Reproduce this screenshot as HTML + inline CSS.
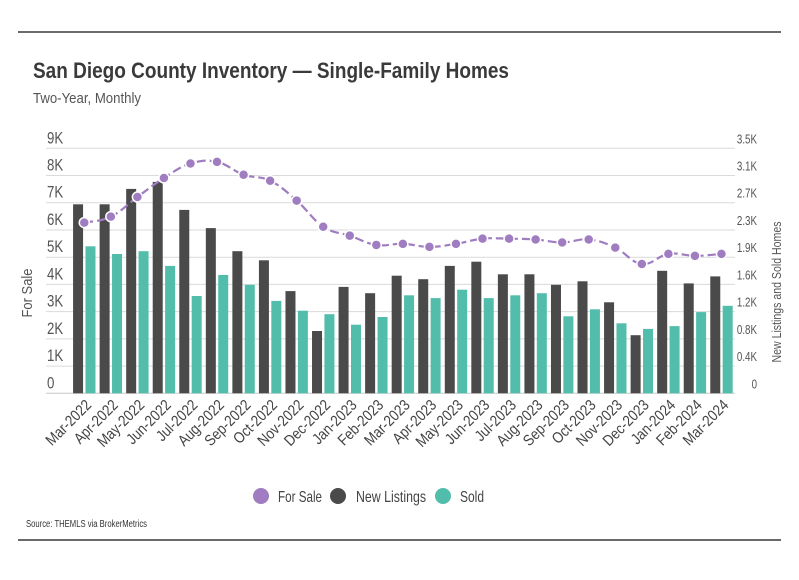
<!DOCTYPE html>
<html><head><meta charset="utf-8">
<style>
body{margin:0;background:#fff;width:799px;height:575px;overflow:hidden;font-family:"Liberation Sans",sans-serif;}
svg text{font-family:"Liberation Sans",sans-serif;}
</style></head>
<body>
<svg id="chart" width="799" height="575" viewBox="0 0 799 575" xmlns="http://www.w3.org/2000/svg">
<line x1="18" y1="32" x2="781" y2="32" stroke="#111" stroke-width="1.3"/>
<text x="33" y="78" font-size="22" font-weight="bold" fill="#3a3a3a" textLength="476" lengthAdjust="spacingAndGlyphs">San Diego County Inventory — Single-Family Homes</text>
<text x="33" y="103" font-size="15" fill="#555" textLength="108" lengthAdjust="spacingAndGlyphs">Two-Year, Monthly</text>
<g id="grid"></g>
<g id="bars"></g>
<g id="line"></g>
<g id="xlabels"></g>
<text transform="translate(32,293) rotate(-90)" text-anchor="middle" font-size="15" fill="#555" textLength="49" lengthAdjust="spacingAndGlyphs">For Sale</text>
<text transform="translate(781,292) rotate(-90)" text-anchor="middle" font-size="13" fill="#555" textLength="141" lengthAdjust="spacingAndGlyphs">New Listings and Sold Homes</text>
<g>
<circle cx="261" cy="496" r="8" fill="#a07cc0"/>
<text x="278" y="502" font-size="16" fill="#444" textLength="44" lengthAdjust="spacingAndGlyphs">For Sale</text>
<circle cx="338" cy="496" r="8" fill="#4a4a4a"/>
<text x="356" y="502" font-size="16" fill="#444" textLength="70" lengthAdjust="spacingAndGlyphs">New Listings</text>
<circle cx="443" cy="496" r="8" fill="#52bdaa"/>
<text x="460" y="502" font-size="16" fill="#444" textLength="24" lengthAdjust="spacingAndGlyphs">Sold</text>
</g>
<text x="26" y="527" font-size="10" fill="#333" textLength="121" lengthAdjust="spacingAndGlyphs">Source:  THEMLS via BrokerMetrics</text>
<line x1="18" y1="540" x2="781" y2="540" stroke="#111" stroke-width="1.3"/>
</svg>
<script>
const months=["Mar-2022","Apr-2022","May-2022","Jun-2022","Jul-2022","Aug-2022","Sep-2022","Oct-2022","Nov-2022","Dec-2022","Jan-2023","Feb-2023","Mar-2023","Apr-2023","May-2023","Jun-2023","Jul-2023","Aug-2023","Sep-2023","Oct-2023","Nov-2023","Dec-2023","Jan-2024","Feb-2024","Mar-2024"];
const forSale=[6270,6490,7210,7910,8440,8500,8030,7810,7080,6120,5790,5450,5490,5380,5490,5680,5680,5650,5540,5650,5350,4750,5120,5050,5120];
const newListings=[2700,2700,2920,3020,2620,2360,2030,1900,1460,890,1520,1430,1680,1630,1820,1880,1700,1700,1550,1600,1300,830,1750,1570,1670];
const sold=[2100,1990,2030,1820,1390,1690,1550,1320,1180,1130,980,1090,1400,1360,1480,1360,1400,1430,1100,1200,1000,920,960,1160,1250];
const leftTicks=["0","1K","2K","3K","4K","5K","6K","7K","8K","9K"];
const rightTicks=["0","0.4K","0.8K","1.2K","1.6K","1.9K","2.3K","2.7K","3.1K","3.5K"];
const leftMax=9000, rightMax=3500;
const NS="http://www.w3.org/2000/svg";
const y0=393.3, yTop=148.3, x0=71, step=26.55;
const yL=v=>y0-(v/leftMax)*(y0-yTop);
const yR=v=>y0-(v/rightMax)*(y0-yTop);
const xC=i=>x0+step*(i+0.5);
function mk(tag,attrs,parent){const e=document.createElementNS(NS,tag);for(const k in attrs)e.setAttribute(k,attrs[k]);parent.appendChild(e);return e;}
function squeeze(t,f){const L=t.getComputedTextLength();t.setAttribute('textLength',(L*f).toFixed(1));t.setAttribute('lengthAdjust','spacingAndGlyphs');}
const grid=document.getElementById('grid');
leftTicks.forEach((t,i)=>{
  const y=y0-i*(y0-yTop)/9;
  const l=mk('line',{x1:46,x2:735,y1:y,y2:y,stroke:i===0?'#c8c8c8':'#dadada','stroke-width':1},grid);
  
  
  const tl=mk('text',{x:47,y:y-5,'font-size':17,fill:'#555'},grid);tl.textContent=t;
  
  
  squeeze(tl,0.78);
  const tr=mk('text',{x:757,y:y-5,'font-size':12.5,fill:'#555','text-anchor':'end'},grid);tr.textContent=rightTicks[i];
  
  
  squeeze(tr,0.78);
});
const bars=document.getElementById('bars');
months.forEach((m,i)=>{
  const c=xC(i);
  const b1=mk('rect',{x:c-11.2,y:yR(newListings[i]),width:10,height:y0-yR(newListings[i]),fill:'#4a4a4a'},bars);
  
  
  const b2=mk('rect',{x:c+1.2,y:yR(sold[i]),width:10,height:y0-yR(sold[i]),fill:'#52bdaa'},bars);
  
  
  const tx=mk('text',{transform:`translate(${c+8},${406}) rotate(-45)`,'text-anchor':'end','font-size':15.5,fill:'#444'},document.getElementById('xlabels'));
  tx.textContent=m;
  
  
  squeeze(tx,0.86);
});
const lg=document.getElementById('line');
const pts=forSale.map((v,i)=>[xC(i),yL(v)]);
let d=`M${pts[0][0]},${pts[0][1]}`;
for(let i=0;i<pts.length-1;i++){
  const p0=pts[i-1]||pts[i],p1=pts[i],p2=pts[i+1],p3=pts[i+2]||p2;
  const t=0.2;
  d+=` C${p1[0]+(p2[0]-p0[0])*t},${p1[1]+(p2[1]-p0[1])*t} ${p2[0]-(p3[0]-p1[0])*t},${p2[1]-(p3[1]-p1[1])*t} ${p2[0]},${p2[1]}`;
}
const path=mk('path',{d:d,fill:'none',stroke:'#a07cc0','stroke-width':2.2,'stroke-dasharray':'9 4'},lg);


pts.forEach(p=>{
  const c=mk('circle',{cx:p[0],cy:p[1],r:5,fill:'#a07cc0',stroke:'#fff','stroke-width':1.5},lg);
  
  
});
</script>
</body></html>
